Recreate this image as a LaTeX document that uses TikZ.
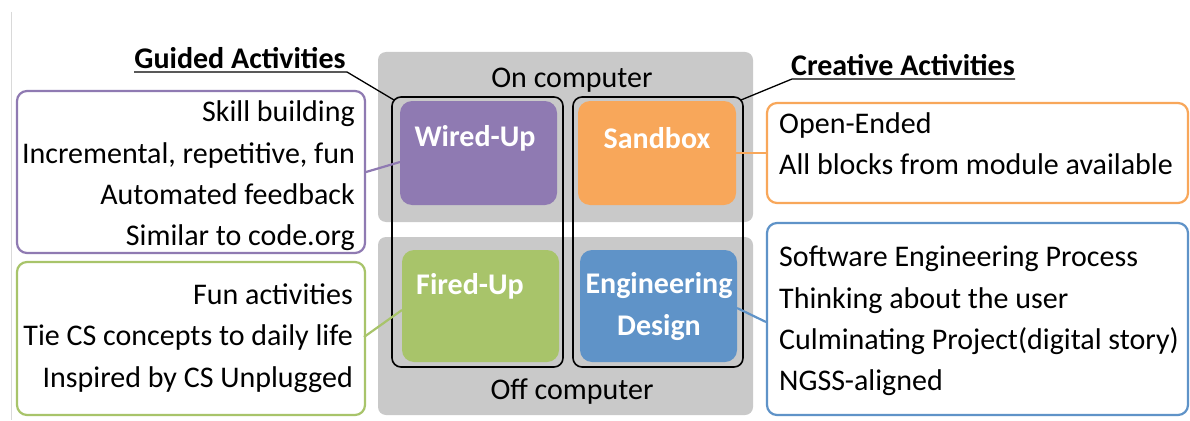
\documentclass[tikz,border=0pt]{standalone}
\usepackage{fontspec}
\setmainfont{Carlito}
\definecolor{cpurple}{HTML}{8F7AB2}
\definecolor{corange}{HTML}{F8A75A}
\definecolor{cgreen}{HTML}{A8C46A}
\definecolor{cblue}{HTML}{5F93C8}
\definecolor{cgray}{HTML}{C9C9C9}
\tikzset{
  panel/.style={fill=cgray, draw=none, rounded corners=8pt},
  group/.style={draw=black, line width=1.6pt, rounded corners=9pt},
  tile/.style={draw=none, rounded corners=12pt, text=white, font=\fontsize{30}{42}\selectfont\bfseries, align=center},
  info/.style={draw, line width=2.2pt, rounded corners=10pt, fill=white},
  body/.style={font=\fontsize{30}{41.3}\selectfont, inner sep=0pt},
  head/.style={font=\fontsize{30}{36}\selectfont\bfseries, inner sep=0pt},
  link/.style={line width=2.2pt},
}
\begin{document}
\begin{tikzpicture}[x=1pt,y=-1pt]
\useasboundingbox (0,0) rectangle (1190,420);
\fill[white] (0,0) rectangle (1190,420);
\draw[gray!30, line width=0.8pt] (11,12) -- (11,420);
% gray panels
\path[panel] (378,52) rectangle (753,222);
\path[panel] (378,237) rectangle (753,415);
\node[body] (on) at (572,80) {On computer};
\node[body] (off) at (572,392) {Off computer};
% group outlines
\draw[group] (392,97) rectangle (563,367);
\draw[group] (573,97) rectangle (743,367);
\coordinate (gtl) at (394,100);
\coordinate (gtr) at (741,100);
% tiles
\path[tile, fill=cpurple] (400,101) rectangle (557,205);
\path[tile, fill=corange] (578,101) rectangle (736,205);
\path[tile, fill=cgreen] (402,250) rectangle (559,362);
\path[tile, fill=cblue] (580,250) rectangle (737,362);
\coordinate (wiredL) at (400,162);
\coordinate (sandR) at (736,153);
\coordinate (firedL) at (402,310);
\coordinate (engR) at (737,308);
\node[tile] (wired) at (475,138) {Wired-Up};
\node[tile] (sand) at (657,138) {Sandbox};
\node[tile] (fired) at (470,286) {Fired-Up};
\node[tile] (eng) at (659,307) {Engineering\\Design};
% info boxes
\path[info, draw=cpurple] (17,91) rectangle (365,253);
\path[info, draw=cgreen] (17,262) rectangle (365,415);
\path[info, draw=corange] (767,103) rectangle (1188,203);
\path[info, draw=cblue] (767,223) rectangle (1188,415);
\coordinate (purR) at (366,172);
\coordinate (grnR) at (364,337);
\coordinate (orgL) at (766,153);
\coordinate (bluL) at (766,322);
\node[body, anchor=east, align=right] (ptext) at (355,176) {Skill building\\Incremental, repetitive, fun\\Automated feedback\\Similar to code.org};
\node[body, anchor=east, align=right] (gtext) at (353,338) {Fun activities\\Tie CS concepts to daily life\\Inspired by CS Unplugged};
\node[body, anchor=west, align=left] (otext) at (779,144) {Open-Ended\\All blocks from module available};
\node[body, anchor=west, align=left] (btext) at (779,321) {Software Engineering Process\\Thinking about the user\\Culminating Project(digital story)\\NGSS-aligned};
% connectors
\draw[link, cpurple] (purR) -- (wiredL);
\draw[link, cgreen] (grnR) -- (firedL);
\draw[link, corange] (orgL) -- (sandR);
\draw[link, cblue] (bluL) -- (engR);
% headings
\node[head] (guided) at (240,58) {Guided Activities};
\node[head] (creative) at (903,65) {Creative Activities};
\draw[line width=1.3pt] (guided.west |- 0,72) -- (347,72) -- (gtl);
\draw[line width=1.3pt] (creative.east |- 0,79) -- (792,79) -- (gtr);
\end{tikzpicture}
\end{document}
